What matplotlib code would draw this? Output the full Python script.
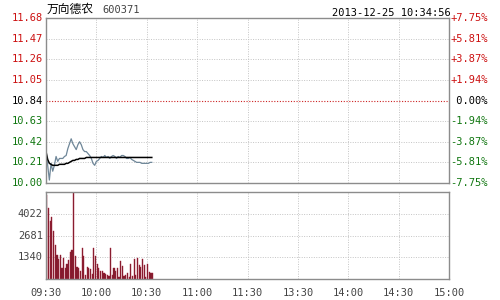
import matplotlib as mpl
mpl.use('Agg')
import matplotlib.pyplot as plt

# stock / quote info
name = "万向德农"
code = "600371"
stamp = "2013-12-25 10:34:56"
pre_close = 10.84

price_ticks = [10.00, 10.21, 10.42, 10.63, 10.84, 11.05, 11.26, 11.47, 11.68]
pct_labels = ["-7.75%", "-5.81%", "-3.87%", "-1.94%", " 0.00%",
              "+1.94%", "+3.87%", "+5.81%", "+7.75%"]
vol_ticks = [1340, 2681, 4022]
vol_top = 5363
time_labels = ["09:30", "10:00", "10:30", "11:00", "11:30",
               "13:30", "14:00", "14:30", "15:00"]
time_pos = [0, 30, 60, 90, 120, 150, 180, 210, 240]

# minute data, 09:30 onwards
price = [10.32, 10.18, 10.03, 10.20, 10.12, 10.18, 10.27, 10.22, 10.25, 10.25,
         10.25, 10.27, 10.28, 10.35, 10.40, 10.45, 10.40, 10.37, 10.34, 10.39,
         10.42, 10.39, 10.34, 10.32, 10.32, 10.30, 10.28, 10.25, 10.20, 10.18,
         10.22, 10.23, 10.25, 10.27, 10.26, 10.28, 10.26, 10.27, 10.25, 10.27,
         10.28, 10.27, 10.25, 10.27, 10.26, 10.28, 10.28, 10.27, 10.25, 10.25,
         10.26, 10.24, 10.23, 10.22, 10.21, 10.21, 10.21, 10.20, 10.20, 10.20,
         10.20, 10.20, 10.21, 10.21]
avg_price = [10.32, 10.24, 10.20, 10.19, 10.18, 10.18, 10.18, 10.18, 10.19, 10.19,
             10.19, 10.19, 10.20, 10.20, 10.21, 10.22, 10.23, 10.23, 10.24, 10.24,
             10.25, 10.25, 10.25, 10.25, 10.26, 10.26, 10.26, 10.26, 10.26, 10.26,
             10.26, 10.26, 10.26, 10.26, 10.26, 10.26, 10.26, 10.26, 10.26, 10.26,
             10.26, 10.26, 10.26, 10.26, 10.26, 10.26, 10.26, 10.26, 10.26, 10.26,
             10.26, 10.26, 10.26, 10.26, 10.26, 10.26, 10.26, 10.26, 10.26, 10.26,
             10.26, 10.26, 10.26, 10.26]
volume = [5200, 4400, 3550, 3850, 2950, 2100, 1450, 1250, 1500, 700,
          1300, 650, 900, 1200, 1650, 1800, 5500, 1400, 720, 680,
          500, 1900, 1400, 230, 720, 650, 600, 300, 1900, 1400,
          920, 680, 480, 470, 370, 310, 230, 200, 1900, 230,
          680, 470, 680, 100, 1090, 780, 160, 230, 370, 100,
          920, 160, 1250, 230, 1290, 880, 720, 1250, 840, 100,
          920, 430, 370, 350]

minutes = list(range(len(price)))

fig = plt.figure(figsize=(5, 3), dpi=100)
fig.patch.set_facecolor('white')

ax = fig.add_axes([0.092, 0.39, 0.806, 0.55])
axv = fig.add_axes([0.092, 0.07, 0.806, 0.29])

mono = 'DejaVu Sans Mono'
fs = 7.5
grid_kw = dict(color='#c4c4c4', linestyle=(0, (1, 1.5)), linewidth=0.7)

for a in (ax, axv):
    a.set_xlim(0, 240)
    for s in a.spines.values():
        s.set_color('#8c8c8c')
        s.set_linewidth(1)
    a.tick_params(length=0)
    a.set_xticks([])
    a.set_yticks([])
    for t in time_pos[1:-1]:
        a.axvline(t, zorder=0, **grid_kw)

# price panel
ax.set_ylim(price_ticks[0], price_ticks[-1])
for p in price_ticks[1:-1]:
    if p == pre_close:
        ax.axhline(p, color='#cc2222', linestyle=(0, (1, 1.5)), linewidth=0.8, zorder=0)
    else:
        ax.axhline(p, zorder=0, **grid_kw)
ax.plot(minutes, price, color='#6f8799', linewidth=0.9)
ax.plot(minutes, avg_price, color='black', linewidth=1.1)

for p, lab in zip(price_ticks, pct_labels):
    if p > pre_close:
        col = '#cc1111'
    elif p < pre_close:
        col = '#117711'
    else:
        col = 'black'
    ax.text(-0.008, p, "%.2f" % p, transform=ax.get_yaxis_transform(),
            ha='right', va='center', fontsize=fs, family=mono, color=col)
    ax.text(1.003, p, lab, transform=ax.get_yaxis_transform(),
            ha='left', va='center', fontsize=fs, family=mono, color=col)

# volume panel
axv.set_ylim(0, vol_top)
for v in vol_ticks:
    axv.axhline(v, zorder=0, **grid_kw)
    axv.text(-0.008, v, str(v), transform=axv.get_yaxis_transform(),
             ha='right', va='center', fontsize=fs, family=mono, color='#444444')
axv.bar([m + 0.5 for m in minutes], volume, width=0.7, color='#7a1a2c',
        edgecolor='#a02035', linewidth=0.3)

for t, lab in zip(time_pos, time_labels):
    axv.text(t, -0.1, lab, transform=axv.get_xaxis_transform(),
             ha='center', va='top', fontsize=fs, family=mono, color='#444444')

fig.text(0.094, 0.968, name, ha='left', va='center', fontsize=8.5,
         family=['Noto Sans CJK SC', 'DejaVu Sans'], color='black')
fig.text(0.205, 0.966, code, ha='left', va='center', fontsize=fs,
         family=mono, color='#444444')
fig.text(0.902, 0.958, stamp, ha='right', va='center', fontsize=fs,
         family=mono, color='black')

fig.savefig('out.png', dpi=100)
